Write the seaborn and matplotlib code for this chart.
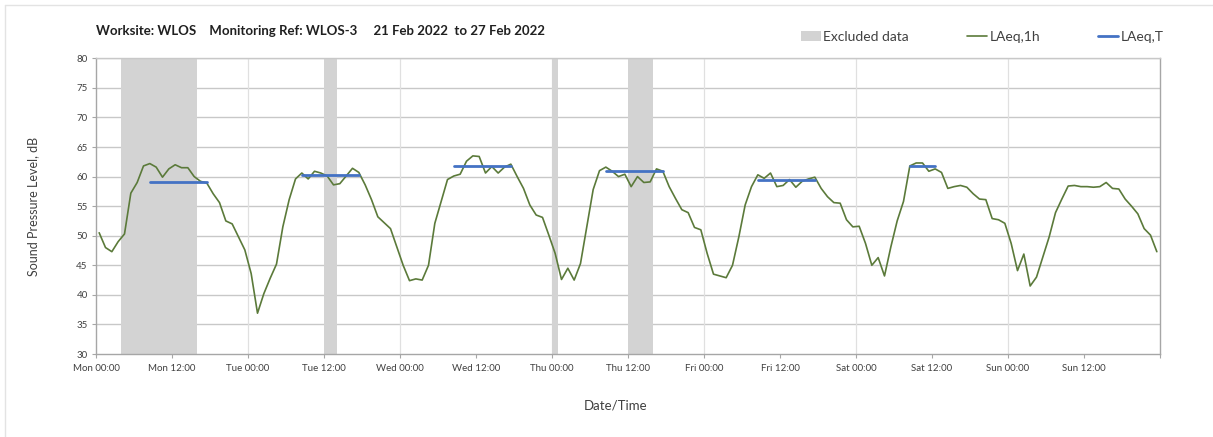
"""
Noise monitoring chart - WLOS-3, 21-27 Feb 2022
LAeq,1h hourly levels with LAeq,T daytime averages and excluded periods
"""
import numpy as np
import pandas as pd
import matplotlib.pyplot as plt
from matplotlib.patches import Patch
from matplotlib.lines import Line2D
import seaborn as sns

# ---------- data ----------
# hourly LAeq,1h, hours 0..167 from Mon 00:00
laeq_1h = [
    50.5, 48.0, 47.3, 49.0, 50.3, 57.2, 59.0, 61.8, 62.2, 61.6, 59.9, 61.3,
    62.0, 61.5, 61.5, 60.0, 59.2, 58.9, 57.1, 55.6, 52.5, 52.0, 49.8, 47.6,
    43.6, 36.9, 40.2, 42.8, 45.2, 51.5, 56.1, 59.6, 60.6, 59.6, 60.9, 60.6,
    60.1, 58.6, 58.8, 60.1, 61.4, 60.7, 58.6, 56.1, 53.2, 52.2, 51.2, 48.1,
    45.0, 42.4, 42.7, 42.5, 45.0, 52.1, 55.8, 59.5, 60.1, 60.4, 62.6, 63.5,
    63.4, 60.6, 61.7, 60.6, 61.6, 62.1, 60.0, 58.0, 55.2, 53.5, 53.1, 50.1,
    47.0, 42.6, 44.5, 42.5, 45.3, 51.5, 57.8, 61.0, 61.6, 60.9, 60.0, 60.4,
    58.3, 60.0, 59.0, 59.1, 61.3, 60.9, 58.3, 56.3, 54.4, 53.9, 51.4, 51.0,
    47.0, 43.5, 43.2, 42.9, 45.0, 49.8, 55.2, 58.3, 60.3, 59.7, 60.6, 58.3,
    58.5, 59.5, 58.2, 59.2, 59.6, 59.9, 58.0, 56.6, 55.6, 55.5, 52.7, 51.5,
    51.6, 48.7, 45.0, 46.3, 43.2, 48.1, 52.5, 55.8, 61.8, 62.3, 62.3, 60.9,
    61.3, 60.7, 58.0, 58.3, 58.5, 58.2, 57.1, 56.2, 56.1, 52.9, 52.7, 52.1,
    48.7, 44.1, 46.9, 41.5, 43.0, 46.4, 49.8, 53.9, 56.2, 58.4, 58.5, 58.3,
    58.3, 58.2, 58.3, 59.0, 58.0, 57.9, 56.2, 55.0, 53.7, 51.2, 50.1, 47.3,
]

# LAeq,T daytime periods (start hour, end hour, level)
period_start = [8, 32, 56, 80, 104, 128]
period_end = [17, 41, 65, 89, 113, 132]
period_level = [59.15, 60.35, 61.85, 61.0, 59.5, 61.85]

# excluded data periods (hours from Mon 00:00)
excl_start = [4, 36, 72, 84]
excl_end = [16, 38, 73, 88]

tick_labels = ['Mon 00:00', 'Mon 12:00', 'Tue 00:00', 'Tue 12:00',
               'Wed 00:00', 'Wed 12:00', 'Thu 00:00', 'Thu 12:00',
               'Fri 00:00', 'Fri 12:00', 'Sat 00:00', 'Sat 12:00',
               'Sun 00:00', 'Sun 12:00', '']

title_text = ('Worksite: WLOS    Monitoring Ref: WLOS-3     '
              '21 Feb 2022  to 27 Feb 2022')

# ---------- frames ----------
df = pd.DataFrame({'hour': np.arange(len(laeq_1h)) + 0.5, 'level': laeq_1h})

rows = []
for i, (s, e, v) in enumerate(zip(period_start, period_end, period_level)):
    rows.append({'period': i, 'hour': s + 0.5, 'level': v})
    rows.append({'period': i, 'hour': e + 0.5, 'level': v})
df_t = pd.DataFrame(rows)

# ---------- plot ----------
sns.set_style('white')
plt.rcParams['font.family'] = ['Lato', 'DejaVu Sans']

green = '#5b7a3a'
blue = '#4472c4'
grey_band = '#d3d3d3'
grid_c = '#c8c8c8'
text_c = '#404040'

fig = plt.figure(figsize=(12.13, 4.37), dpi=100)
ax = fig.add_axes([96 / 1213, 1 - 354 / 437, (1160 - 96) / 1213, (354 - 58.3) / 437])

for s, e in zip(excl_start, excl_end):
    ax.axvspan(s, e, color=grey_band, lw=0, zorder=1)

sns.lineplot(data=df, x='hour', y='level', color=green, lw=1.2, ax=ax, zorder=3)
sns.lineplot(data=df_t, x='hour', y='level', units='period', estimator=None,
             color=blue, lw=2.0, ax=ax, zorder=4)

ax.set_xlim(0, 168)
ax.set_ylim(30, 80)
ax.set_xticks(np.arange(0, 169, 12))
ax.set_xticklabels(tick_labels)
ax.set_yticks(np.arange(30, 81, 5))

# grid: horizontal every 5 dB, vertical at midnight only
for yv in np.arange(35, 81, 5):
    ax.axhline(yv, color=grid_c, lw=1.0, zorder=0)
for xv in np.arange(24, 168, 24):
    ax.axvline(xv, color='#e0e0e0', lw=0.9, zorder=0)

for sp in ax.spines.values():
    sp.set_color('#a6a6a6')
    sp.set_linewidth(1.0)
ax.spines['top'].set_color(grid_c)

ax.tick_params(axis='both', which='major', direction='out', length=3,
               width=0.8, color='#a6a6a6', labelsize=7, labelcolor=text_c,
               bottom=True, left=True)
ax.tick_params(axis='x', pad=4)
ax.tick_params(axis='y', pad=3)

ax.set_xlabel('Date/Time', fontsize=9.5, color=text_c)
ax.xaxis.set_label_coords(0.488, -0.155)
ax.set_ylabel('Sound Pressure Level, dB', fontsize=9, color=text_c)
ax.yaxis.set_label_coords(-0.053, 0.5)

fig.text(96 / 1213, 1 - 31 / 437, title_text, fontsize=9.5, fontweight='bold',
         color='#202020', ha='left', va='center')

handles = [Patch(facecolor=grey_band, edgecolor='none'),
           Line2D([0], [0], color=green, lw=1.2),
           Line2D([0], [0], color=blue, lw=2.0)]
fig.legend(handles, ['Excluded data', 'LAeq,1h', 'LAeq,T'],
           loc='center right', bbox_to_anchor=(1176 / 1213, 1 - 37 / 437),
           ncol=3, frameon=False, fontsize=10, handlelength=1.45,
           handletextpad=0.15, columnspacing=4.2, labelcolor=text_c)

# light outer frame like the source image
fig.add_artist(Line2D([5 / 1213, 1], [1 - 5 / 437] * 2, color='#e3e3e3', lw=1,
                      transform=fig.transFigure))
fig.add_artist(Line2D([5 / 1213] * 2, [0, 1 - 5 / 437], color='#e3e3e3', lw=1,
                      transform=fig.transFigure))

plt.savefig('out.png', dpi=100)
